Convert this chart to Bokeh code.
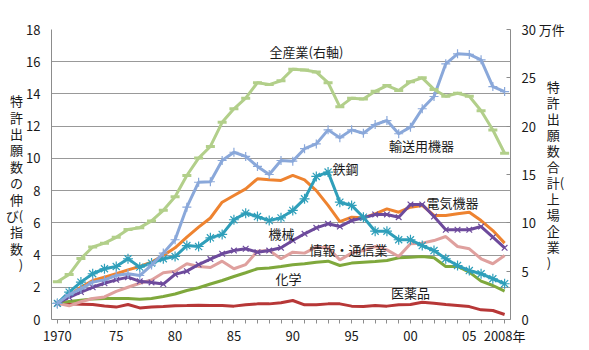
from bokeh.plotting import figure
from bokeh.models import Range1d, LinearAxis, FixedTicker, Label
from bokeh.embed import file_html
from bokeh.resources import INLINE

# ---------------- data ----------------
years = list(range(1970, 2009))

# right axis (万件)
all_industry = [3.9, 4.65, 6.3, 7.5, 7.9, 8.5, 9.3, 9.5, 10.2, 11.3,
                12.7, 14.9, 16.7, 17.9, 20.4, 21.8, 22.9, 24.5, 24.3, 24.7,
                25.9, 25.8, 25.6, 24.5, 22.0, 22.9, 22.8, 23.6, 24.2, 23.7,
                24.6, 25.0, 23.8, 23.1, 23.4, 23.1, 21.6, 19.6, 17.2]

# left axis (index, 1970 = 1)
transport = [1.0, 1.55, 1.9, 2.32, 2.46, 2.73, 2.84, 2.73, 3.38, 4.12,
             4.95, 6.97, 8.52, 8.55, 9.87, 10.38, 10.12, 9.5, 9.0, 9.87,
             9.83, 10.6, 10.9, 11.77, 11.28, 11.77, 11.56, 12.1, 12.35, 11.53,
             11.94, 13.08, 13.84, 15.87, 16.49, 16.45, 16.12, 14.46, 14.15]
steel = [1.0, 1.7, 2.32, 2.84, 3.15, 3.29, 3.77, 3.25, 3.5, 3.77,
         3.91, 4.59, 4.53, 5.07, 5.28, 6.19, 6.6, 6.39, 6.14, 6.31,
         6.77, 7.49, 8.88, 9.15, 7.28, 7.08, 6.35, 5.48, 5.48, 4.95,
         4.95, 4.59, 4.28, 3.77, 3.35, 3.04, 2.84, 2.53, 2.22]
electric = [1.0, 1.49, 2.0, 2.42, 2.63, 2.84, 3.08, 3.29, 3.56, 3.97,
            4.45, 5.11, 5.73, 6.3, 7.28, 7.7, 8.11, 8.73, 8.67, 8.63,
            8.94, 8.67, 8.0, 7.08, 6.08, 6.35, 6.31, 6.56, 6.87, 6.66,
            6.97, 7.08, 6.46, 6.46, 6.56, 6.66, 6.14, 5.52, 4.74]
machinery = [1.0, 1.38, 1.7, 2.0, 2.25, 2.46, 2.63, 2.37, 2.3, 2.2,
             2.8, 3.0, 3.41, 3.75, 4.08, 4.28, 4.39, 4.18, 4.28, 4.45,
             4.9, 5.32, 5.69, 5.94, 5.77, 6.14, 6.31, 6.52, 6.52, 6.35,
             7.14, 7.14, 6.39, 5.57, 5.57, 5.57, 5.77, 5.11, 4.45]
ict = [1.0, 0.85, 1.1, 1.3, 1.4, 1.75, 2.0, 2.25, 2.45, 2.9,
       3.0, 3.46, 3.29, 3.23, 3.62, 3.15, 3.41, 4.24, 4.28, 3.77,
       4.18, 4.12, 4.49, 4.45, 3.7, 4.12, 4.28, 4.53, 4.32, 3.91,
       4.7, 4.74, 4.9, 5.15, 4.53, 4.39, 3.77, 3.46, 3.97]
chemical = [1.0, 1.12, 1.2, 1.28, 1.3, 1.3, 1.3, 1.26, 1.3, 1.43,
            1.58, 1.8, 1.97, 2.2, 2.42, 2.67, 2.9, 3.15, 3.19, 3.29,
            3.4, 3.46, 3.56, 3.62, 3.35, 3.5, 3.56, 3.6, 3.66, 3.83,
            3.87, 3.91, 3.83, 3.29, 3.29, 2.94, 2.38, 2.11, 1.76]
pharma = [1.0, 0.97, 0.95, 0.93, 0.84, 0.77, 0.93, 0.72, 0.77, 0.8,
          0.86, 0.87, 0.89, 0.87, 0.87, 0.83, 0.91, 0.97, 0.97, 1.04,
          1.18, 0.91, 0.91, 0.97, 0.97, 0.83, 0.8, 0.87, 0.83, 0.91,
          0.93, 1.07, 1.01, 0.93, 0.87, 0.8, 0.6, 0.56, 0.31]

left_ticks = [0, 2, 4, 6, 8, 10, 12, 14, 16, 18]
right_ticks = [0, 5, 10, 15, 20, 25, 30]
right_tick_labels = {0: "0", 5: "5", 10: "10", 15: "15", 20: "20", 25: "25",
                     30: "30  万件"}
x_labels = {1970: "1970", 1975: "75", 1980: "80", 1985: "85", 1990: "90",
            1995: "95", 2000: "00", 2005: "05", 2008: "2008年"}

series_names = ["全産業(右軸)", "輸送用機器", "鉄鋼", "電気機器", "機械",
                "情報・通信業", "化学", "医薬品"]
left_title_lines = ["特", "許", "出", "願", "数", "の", "伸", "び(", "指", "数", ")"]
right_title_lines = ["特", "許", "出", "願", "数", "合", "計(", "上", "場", "企", "業", ")"]

# ---------------- figure ----------------
FONT = "Noto Sans CJK JP"
W, H = 589, 350
FL, FR, FT, FB = 51, 510, 29, 319

X0, X1 = 1969.5, 2008.5
p = figure(width=W, height=H, output_backend="svg", toolbar_location=None,
           x_range=Range1d(X0, X1), y_range=Range1d(0, 18),
           min_border_left=FL, min_border_right=W - FR,
           min_border_top=FT, min_border_bottom=H - FB)
p.extra_y_ranges = {"right": Range1d(0, 30)}
p.outline_line_color = None
p.background_fill_color = "white"
p.border_fill_color = "white"

def sx(px):
    return X0 + (px - FL) / (FR - FL) * (X1 - X0)

def sy(py):
    return (FB - py) / (FB - FT) * 18.0

GRAY = "#8c8c8c"
TXT = "#1a1a1a"

# grid
p.xgrid.visible = False
p.ygrid.ticker = FixedTicker(ticks=left_ticks)
p.ygrid.grid_line_color = "#999999"
p.ygrid.grid_line_width = 1

# left axis
ya = p.yaxis[0]
ya.ticker = FixedTicker(ticks=left_ticks)
ya.axis_line_color = GRAY
ya.major_tick_out = 0
ya.major_tick_in = 0
ya.minor_tick_line_color = None
ya.major_label_standoff = 11
ya.major_label_text_font = FONT
ya.major_label_text_font_size = "13px"
ya.major_label_text_color = TXT
ya.axis_label = "\n".join(["\u3000"] + left_title_lines)
ya.axis_label_orientation = "horizontal"
ya.axis_label_standoff = 0
ya.axis_label_text_font = FONT
ya.axis_label_text_font_size = "13px"
ya.axis_label_text_font_style = "normal"
ya.axis_label_text_color = TXT
ya.axis_label_text_line_height = 0.86

# right axis
ra = LinearAxis(y_range_name="right", ticker=FixedTicker(ticks=right_ticks))
ra.major_label_overrides = right_tick_labels
ra.axis_line_color = GRAY
ra.major_tick_line_color = GRAY
ra.major_tick_in = 4
ra.major_tick_out = 0
ra.minor_tick_line_color = None
ra.major_label_standoff = 11
ra.major_label_text_font = FONT
ra.major_label_text_font_size = "13px"
ra.major_label_text_color = TXT
ra.axis_label = "\n".join(right_title_lines)
ra.axis_label_orientation = "horizontal"
ra.axis_label_standoff = -24
ra.axis_label_text_font = FONT
ra.axis_label_text_font_size = "13px"
ra.axis_label_text_font_style = "normal"
ra.axis_label_text_color = TXT
ra.axis_label_text_line_height = 0.84
p.add_layout(ra, "right")

# bottom axis
xa = p.xaxis[0]
xa.ticker = FixedTicker(ticks=years)
xa.major_label_overrides = {y: x_labels.get(y, "") for y in years}
xa.axis_line_color = GRAY
xa.major_tick_line_color = GRAY
xa.major_tick_out = 4
xa.major_tick_in = 0
xa.minor_tick_line_color = None
xa.major_label_standoff = 2
xa.major_label_text_font = FONT
xa.major_label_text_font_size = "13px"
xa.major_label_text_color = TXT

LW = 3
c_red = "#b73737"
c_green = "#7fa83c"
c_pink = "#dfa09e"
c_orange = "#ee8330"
c_purple = "#6d4a9c"
c_teal = "#2f9fba"
c_lblue = "#8aa8da"
c_lgreen = "#b2cf8a"

p.line(years, pharma, line_color=c_red, line_width=LW)
p.line(years, chemical, line_color=c_green, line_width=LW)
p.line(years, ict, line_color=c_pink, line_width=LW)
p.line(years, electric, line_color=c_orange, line_width=LW)
p.line(years, machinery, line_color=c_purple, line_width=LW)
p.scatter(years, machinery, marker="x", size=8, line_color=c_purple, line_width=1.2)
p.line(years, steel, line_color=c_teal, line_width=LW)
p.scatter(years, steel, marker="asterisk", size=10, line_color=c_teal, line_width=1.2)
p.line(years, transport, line_color=c_lblue, line_width=LW)
p.scatter(years, transport, marker="cross", size=9, line_color=c_lblue, line_width=1.2)
p.line(years, all_industry, line_color=c_lgreen, line_width=LW, y_range_name="right")
p.scatter(years, all_industry, marker="dash", size=9, line_color=c_lgreen, line_width=3,
          y_range_name="right")

# in-plot series labels (pixel centres -> data)
label_px = [(306, 51), (421, 145), (345, 168), (452, 202), (281, 233),
            (348, 249), (288, 278), (410, 292)]
for name, (px, py) in zip(series_names, label_px):
    p.add_layout(Label(x=sx(px), y=sy(py), text=name, text_align="center",
                       text_baseline="middle", text_font=FONT,
                       text_font_size="13px", text_color=TXT))

open("out.html", "w").write(file_html(p, INLINE))
